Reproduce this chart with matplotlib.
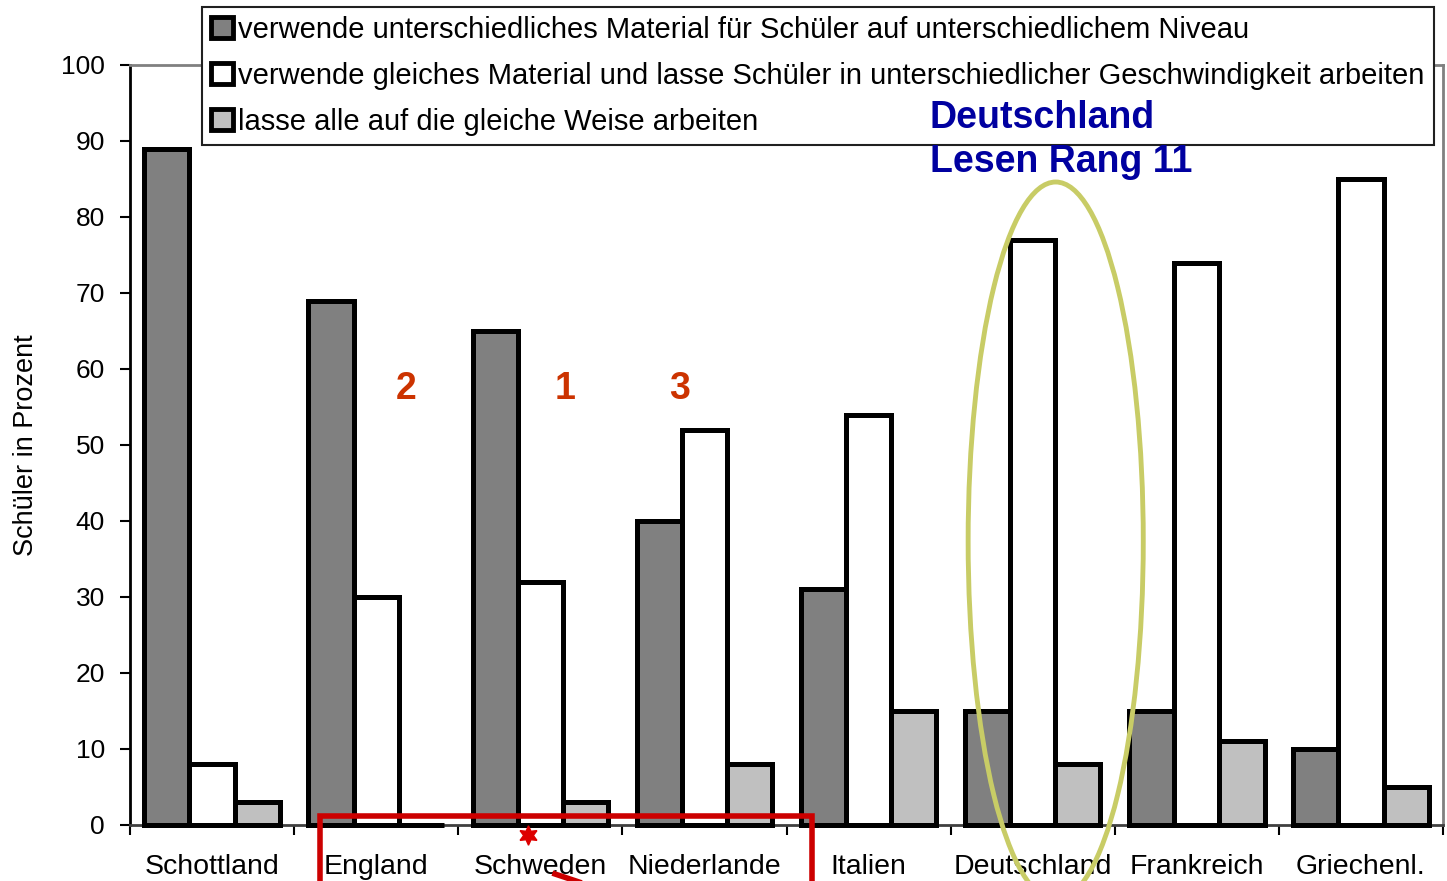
import numpy as np
import matplotlib.pyplot as plt
from matplotlib.patches import Ellipse, Rectangle, Patch

plt.rcParams['font.family'] = ['Liberation Sans', 'DejaVu Sans']

laender = ['Schottland', 'England', 'Schweden', 'Niederlande', 'Italien',
           'Deutschland', 'Frankreich', 'Griechenl.']
unterschiedlich = [89, 69, 65, 40, 31, 15, 15, 10]
gleich_tempo = [8, 30, 32, 52, 54, 77, 74, 85]
gleich_weise = [3, 0, 3, 8, 15, 8, 11, 5]
serien = ['verwende unterschiedliches Material für Schüler auf unterschiedlichem Niveau',
          'verwende gleiches Material und lasse Schüler in unterschiedlicher Geschwindigkeit arbeiten',
          'lasse alle auf die gleiche Weise arbeiten']
farben = ['#808080', '#ffffff', '#c0c0c0']

W, H = 1447, 881
fig = plt.figure(figsize=(W / 100, H / 100), dpi=100)
ax = fig.add_axes([130 / W, (H - 825) / H, (1443 - 130) / W, (825 - 65) / H])

x = np.arange(len(laender)) + 0.5
bw = 0.275
for i, (werte, col) in enumerate(zip([unterschiedlich, gleich_tempo, gleich_weise], farben)):
    ax.bar(x + (i - 1) * bw, werte, width=bw, color=col, edgecolor='black',
           linewidth=3.6, label=serien[i], zorder=3, clip_on=False)

ax.set_xlim(0, len(laender))
ax.set_ylim(0, 100)
ax.set_yticks(range(0, 101, 10))
ax.set_xticks(np.arange(len(laender) + 1), minor=False)
ax.set_xticklabels([])
ax.set_xticks(x, minor=True)
ax.set_xticklabels(laender, minor=True, fontsize=20.5)
ax.tick_params(axis='x', which='minor', length=0, pad=21)
ax.tick_params(axis='x', which='major', length=7, width=1.5, direction='out')
ax.tick_params(axis='y', length=7, width=1.5, direction='out', labelsize=19, pad=11)
ax.set_ylabel('Schüler in Prozent', fontsize=19.5)
ax.yaxis.set_label_coords(-0.069, 0.5)

for s in ['top', 'right']:
    ax.spines[s].set_color('#808080')
    ax.spines[s].set_linewidth(2)
ax.spines['left'].set_linewidth(2)
ax.spines['bottom'].set_color('#404040')
ax.spines['bottom'].set_linewidth(2)

handles = [Patch(facecolor=c, edgecolor='black', linewidth=3.5) for c in farben]
leg = fig.legend(handles, serien, loc='upper left',
                 bbox_to_anchor=(202 / W, 1 - 7 / H), fontsize=21.0,
                 fancybox=False, framealpha=1, edgecolor='#202020',
                 handlelength=0.75, handleheight=0.75, handletextpad=0.2,
                 labelspacing=0.62, borderpad=0.3, borderaxespad=0)
leg.get_frame().set_linewidth(1.5)

# Anmerkungen
fig.text(930 / W, 1 - 140 / H, 'Deutschland\nLesen Rang 11', color='#0000a0',
         fontsize=27, fontweight='bold', va='center', linespacing=1.27, zorder=10)
for txt, px in [('2', 406), ('1', 565), ('3', 680)]:
    fig.text(px / W, 1 - 389 / H, txt, color='#cc3300', fontsize=27,
             fontweight='bold', ha='center', va='center', zorder=10)

ax.add_patch(Ellipse(((1055 - 130) / 164, (825 - 541) / 7.6), 175 / 164, 718 / 7.6,
                     fill=False, edgecolor='#c8cc66', linewidth=3.5, zorder=5, clip_on=False))
fig.patches.append(Rectangle((320 / W, -0.05), (812 - 320) / W, 0.05 + (H - 816) / H,
                             fill=False, edgecolor='#cc0000', linewidth=4,
                             transform=fig.transFigure, figure=fig, zorder=6))
fig.lines.append(plt.Line2D([528 / W], [1 - 835 / H], marker=(6, 1, 0), markersize=14,
                            color='#dd0000', transform=fig.transFigure, figure=fig))
fig.lines.append(plt.Line2D([555 / W, 585 / W], [1 - 874 / H, 1 - 884 / H], color='#cc0000',
                            linewidth=4, transform=fig.transFigure, figure=fig))

fig.savefig('out.png', dpi=100)
